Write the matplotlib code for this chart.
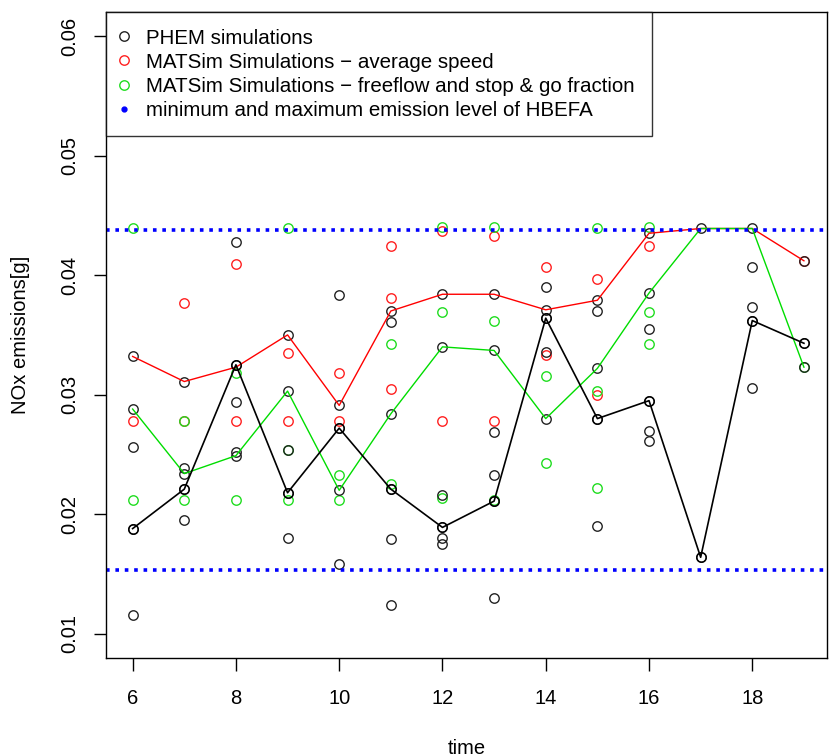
import matplotlib
matplotlib.use("Agg")
import matplotlib.pyplot as plt
from matplotlib.lines import Line2D

plt.rcParams['font.family'] = ['Liberation Sans', 'DejaVu Sans']

# time of day
times = [6, 7, 8, 9, 10, 11, 12, 13, 14, 15, 16, 17, 18, 19]

# PHEM simulation results per hour
phem = [
    [0.0332, 0.0288, 0.0256, 0.0188, 0.0116],
    [0.0311, 0.0239, 0.0234, 0.0221, 0.0195],
    [0.0428, 0.0325, 0.0294, 0.0252, 0.0249],
    [0.0350, 0.0303, 0.0254, 0.0218, 0.0180],
    [0.0383, 0.0291, 0.0272, 0.0220, 0.0158],
    [0.0370, 0.0361, 0.0284, 0.0221, 0.0179, 0.0124],
    [0.0384, 0.0340, 0.0216, 0.0189, 0.0180, 0.0175],
    [0.0384, 0.0337, 0.0269, 0.0233, 0.0211, 0.0130],
    [0.0390, 0.0371, 0.0364, 0.0336, 0.0280],
    [0.0379, 0.0370, 0.0322, 0.0280, 0.0190],
    [0.0435, 0.0385, 0.0355, 0.0295, 0.0270, 0.0261],
    [0.0439, 0.0164],
    [0.0439, 0.0407, 0.0373, 0.0362, 0.0306],
    [0.0412, 0.0343, 0.0323],
]

# MATSim - average speed
matsim_avg = [
    [0.0278],
    [0.0377, 0.0278],
    [0.0409, 0.0278],
    [0.0335, 0.0278],
    [0.0318, 0.0278],
    [0.0424, 0.0381, 0.0305],
    [0.0437, 0.0278],
    [0.0433, 0.0278],
    [0.0407, 0.0333],
    [0.0397, 0.0300],
    [0.0424],
    [],
    [],
    [0.0412],
]

# MATSim - freeflow and stop & go fraction
matsim_ff = [
    [0.0439, 0.0212],
    [0.0278, 0.0212],
    [0.0318, 0.0212],
    [0.0439, 0.0254, 0.0212],
    [0.0233, 0.0212],
    [0.0342, 0.0225],
    [0.0440, 0.0369, 0.0214],
    [0.0440, 0.0362, 0.0212],
    [0.0316, 0.0243],
    [0.0439, 0.0303, 0.0222],
    [0.0440, 0.0369, 0.0342],
    [],
    [],
    [0.0323],
]

# connecting lines
red_line = [0.0332, 0.0311, 0.0323, 0.0350, 0.0291, 0.0370, 0.0384,
            0.0384, 0.0371, 0.0379, 0.0435, 0.0439, 0.0439, 0.0412]
green_line = [0.0288, 0.0234, 0.0249, 0.0303, 0.0220, 0.0284, 0.0340,
              0.0337, 0.0280, 0.0322, 0.0385, 0.0439, 0.0439, 0.0323]
black_line = [0.0188, 0.0221, 0.0325, 0.0218, 0.0272, 0.0221, 0.0189,
              0.0211, 0.0364, 0.0280, 0.0295, 0.0164, 0.0362, 0.0343]

# HBEFA levels
hbefa_min = 0.0153
hbefa_max = 0.0438


def flatten(groups):
    xs, ys = [], []
    for t, vals in zip(times, groups):
        for v in vals:
            xs.append(t)
            ys.append(v)
    return xs, ys


fig = plt.figure(figsize=(8.33, 7.56), dpi=100)
ax = fig.add_axes([0.127, 0.130, 0.866, 0.854])

ms = 6.8
mew = 1.0
for groups, col in [(matsim_avg, '#ff2020'), (matsim_ff, '#20dd20'), (phem, '#222222')]:
    xs, ys = flatten(groups)
    ax.plot(xs, ys, linestyle='none', marker='o', ms=ms, mfc='none',
            mec=col, mew=mew)

ax.plot(times, red_line, color='#ff0000', lw=1.0)
ax.plot(times, green_line, color='#00dd00', lw=1.0)
ax.plot(times, black_line, color='black', lw=1.2, marker='o', ms=ms,
        mfc='none', mec='black', mew=mew)

for lev in [hbefa_min, hbefa_max]:
    ax.axhline(lev, color='#0000ff', lw=2.6, linestyle=(0, (1, 1.6)),
               dash_capstyle='butt')

fs = 14.5
ax.set_xlim(5.48, 19.45)
ax.set_ylim(0.008, 0.062)
ax.set_xticks([6, 8, 10, 12, 14, 16, 18])
ax.set_yticks([0.01, 0.02, 0.03, 0.04, 0.05, 0.06])
ax.set_yticklabels(['0.01', '0.02', '0.03', '0.04', '0.05', '0.06'],
                   rotation=90, va='center')
ax.tick_params(labelsize=fs, length=9, width=1.0)
ax.tick_params(axis='x', pad=13.5)
ax.tick_params(axis='y', pad=10)
ax.set_xlabel('time', fontsize=fs, labelpad=22)
ax.set_ylabel('NOx emissions[g]', fontsize=fs, labelpad=22)
for s in ax.spines.values():
    s.set_linewidth(1.0)

handles = [
    Line2D([], [], linestyle='none', marker='o', ms=ms, mfc='none', mec='#222222', mew=mew),
    Line2D([], [], linestyle='none', marker='o', ms=ms, mfc='none', mec='#ff2020', mew=mew),
    Line2D([], [], linestyle='none', marker='o', ms=ms, mfc='none', mec='#20dd20', mew=mew),
    Line2D([], [], linestyle='none', marker='o', ms=3.5, color='#0000ff'),
]
labels = ['PHEM simulations',
          'MATSim Simulations \u2212 average speed',
          'MATSim Simulations \u2212 freeflow and stop & go fraction',
          'minimum and maximum emission level of HBEFA']
leg = ax.legend(handles, labels, loc='upper left', bbox_to_anchor=(0, 1),
                borderaxespad=0, fancybox=False, fontsize=14.8,
                handlelength=0.2, handletextpad=0.98, labelspacing=0.25,
                borderpad=0.8)
leg.get_frame().set_edgecolor('black')
leg.get_frame().set_linewidth(1.0)

fig.savefig('out.png', dpi=100)
